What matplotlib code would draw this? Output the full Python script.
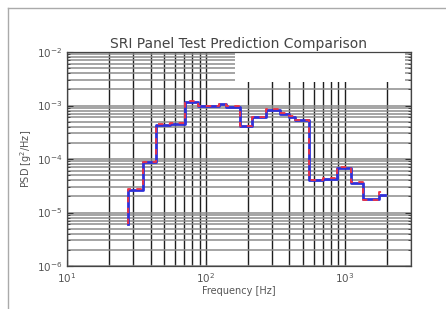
import matplotlib
matplotlib.use("Agg")
import matplotlib.pyplot as plt
from matplotlib.patches import Rectangle
from matplotlib.lines import Line2D
from matplotlib.ticker import LogLocator, NullFormatter

# Step edges (Hz) and PSD levels (g^2/Hz)
edges = [27.5, 35.2, 44, 55, 71, 88, 124, 140, 175, 216, 269, 344, 395,
         440, 550, 700, 875, 1110, 1360, 1760, 1950]
prediction = [2.6e-5, 8.7e-5, 4.3e-4, 4.6e-4, 1.18e-3, 1.0e-3, 1.05e-3, 9.5e-4,
              4.1e-4, 6.0e-4, 8.4e-4, 7.0e-4, 6.1e-4, 5.3e-4, 4.1e-5, 4.2e-5,
              6.9e-5, 3.6e-5, 1.75e-5, 2.1e-5]
test = [2.7e-5, 8.8e-5, 4.5e-4, 4.7e-4, 1.2e-3, 1.0e-3, 1.08e-3, 9.7e-4,
        4.2e-4, 6.2e-4, 8.6e-4, 7.3e-4, 6.3e-4, 5.3e-4, 4.1e-5, 4.5e-5,
        7.0e-5, 3.7e-5, 1.7e-5, 2.4e-5]
start_level = 6.2e-6

fig = plt.figure(figsize=(4.46, 3.09), dpi=100)
ax = fig.add_axes([67/446, 1-266/309, (411-67)/446, (266-52)/309])

x = [edges[0]] + edges
yp = [start_level] + prediction + [prediction[-1]]
yt = [start_level] + test + [test[-1]]
ax.plot(x, yp, drawstyle="steps-post", color="#3030d8", lw=2.0, zorder=4)
ax.plot(x, yt, drawstyle="steps-post", color="#ee3344", lw=1.3, ls=(0, (3, 3)), zorder=5)

ax.set_xscale("log")
ax.set_yscale("log")
ax.set_xlim(10, 3000)
ax.set_ylim(1e-6, 1e-2)
ax.xaxis.set_major_locator(LogLocator(base=10, numticks=10))
ax.yaxis.set_major_locator(LogLocator(base=10, numticks=10))
ax.xaxis.set_minor_locator(LogLocator(base=10, subs=range(2, 10), numticks=20))
ax.yaxis.set_minor_locator(LogLocator(base=10, subs=range(2, 10), numticks=20))
ax.xaxis.set_minor_formatter(NullFormatter())
ax.yaxis.set_minor_formatter(NullFormatter())

ax.grid(True, which="both", axis="x", color="#1e1e1e", lw=1.0)
ax.grid(True, which="both", axis="y", color="#8c8c8c", lw=1.1)
ax.set_axisbelow(True)

ax.tick_params(which="both", direction="in", top=True, right=True,
               labelsize=7.5, colors="#333333", labelcolor="#555555")
ax.tick_params(which="major", length=4)
ax.tick_params(which="minor", length=2)
for s in ax.spines.values():
    s.set_color("#444444")
    s.set_linewidth(0.9)

# empty legend box (white) in upper right
ax.add_patch(Rectangle(((235-67)/344, (266-82)/214), (405-235)/344, (82-52)/214,
                       transform=ax.transAxes, facecolor="white", edgecolor="none",
                       zorder=2))

ax.set_title("SRI Panel Test Prediction Comparison", fontsize=10, color="#444444", pad=3)
ax.set_xlabel("Frequency [Hz]", fontsize=7, color="#555555", labelpad=1)
ax.set_ylabel("PSD [g$^2$/Hz]", fontsize=7, color="#555555", labelpad=2)

# figure border
fig.add_artist(Line2D([8/446, 1], [1-8/309, 1-8/309], color="#aaaaaa", lw=1))
fig.add_artist(Line2D([8/446, 8/446], [0, 1-8/309], color="#aaaaaa", lw=1))

fig.savefig("out.png", dpi=100)
